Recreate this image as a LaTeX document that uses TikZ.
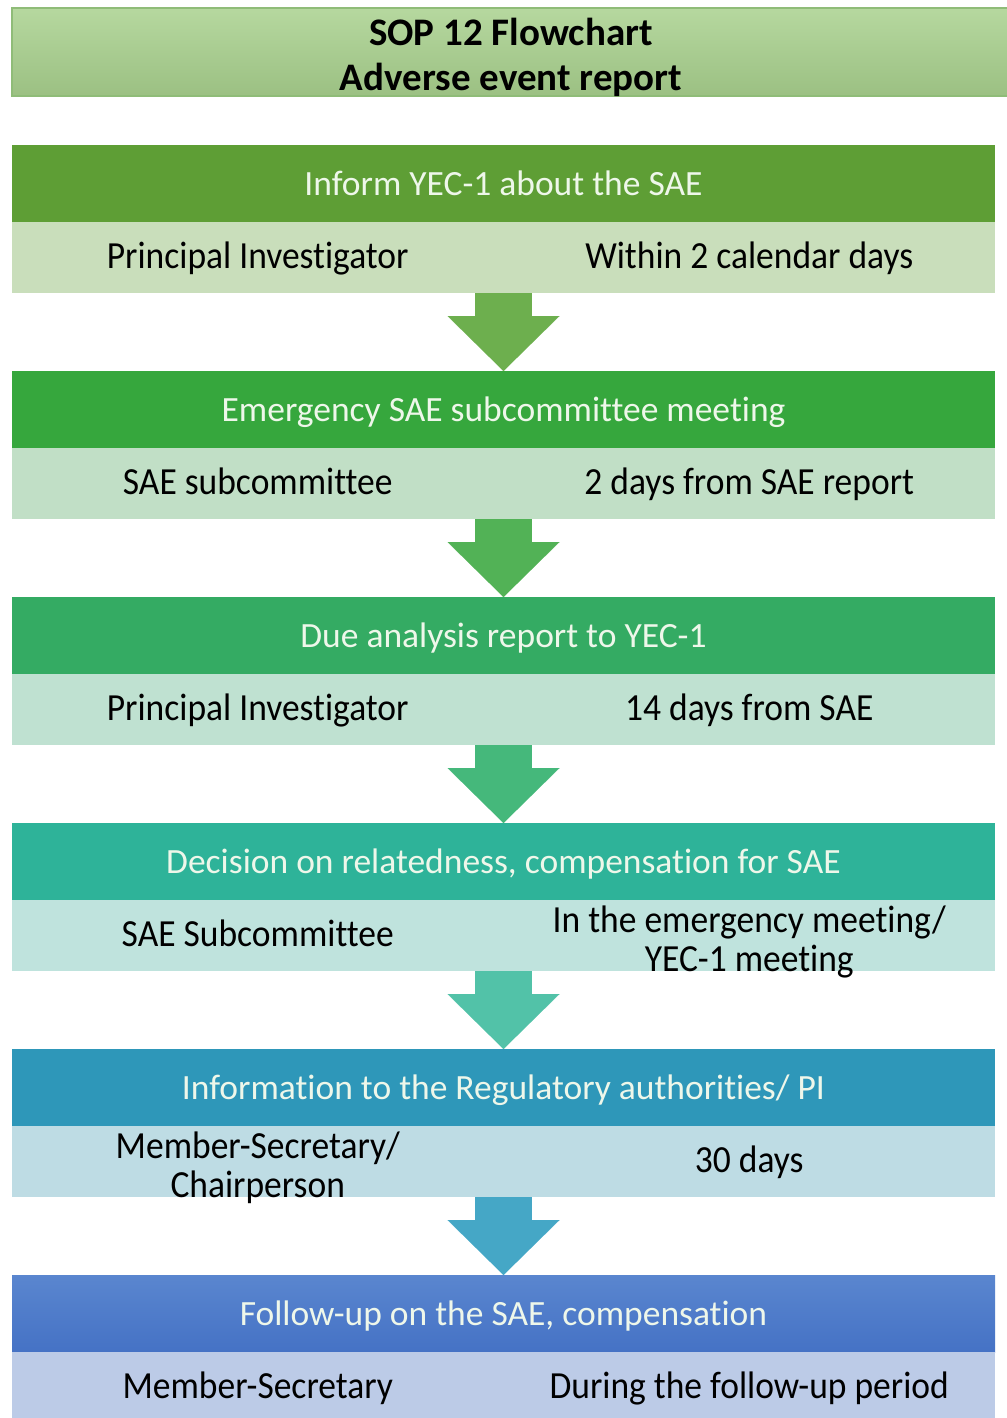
\documentclass[tikz,border=0pt]{standalone}
\usepackage{graphicx}
\usepackage{fontspec}
\setmainfont{Carlito}[Ligatures=NoCommon]
\usetikzlibrary{positioning,arrows.meta}

\definecolor{titlefill}{HTML}{A9D18E}
\definecolor{titleline}{HTML}{8FBC78}
\definecolor{hdA}{HTML}{5E9E35}\definecolor{subA}{HTML}{C9DEBB}\definecolor{arA}{HTML}{6DAF4E}
\definecolor{hdB}{HTML}{36A73D}\definecolor{subB}{HTML}{C1DFC6}\definecolor{arB}{HTML}{52B256}
\definecolor{hdC}{HTML}{34AB63}\definecolor{subC}{HTML}{BFE1D1}\definecolor{arC}{HTML}{45B87B}
\definecolor{hdD}{HTML}{2EB399}\definecolor{subD}{HTML}{BFE3DD}\definecolor{arD}{HTML}{52C2A8}
\definecolor{hdE}{HTML}{2E97B9}\definecolor{subE}{HTML}{BEDCE4}\definecolor{arE}{HTML}{45A7C6}
\definecolor{hdF}{HTML}{4572C5}\definecolor{hdFtop}{HTML}{5A86CF}\definecolor{subF}{HTML}{BCCBE7}
\definecolor{hdtext}{HTML}{EEF7EA}

% cell texts are a little taller than the header texts
\newcommand\tall[1]{\scalebox{1}[1.08]{#1}}
\newcommand\twolines[2]{\tall{\begin{tabular}{@{}c@{}}#1\\#2\end{tabular}}}

\tikzset{
  hdr/.style={rectangle,minimum width=983pt,minimum height=77pt,inner sep=0pt,outer sep=0pt,
    text=hdtext,font=\fontsize{35.5}{38}\selectfont,text height=27pt,text depth=3pt},
  cell/.style={rectangle,minimum width=491.5pt,minimum height=71pt,inner sep=0pt,outer sep=0pt,
    text=black,font=\fontsize{35.5}{36}\selectfont,text height=26pt,text depth=3.6pt},
  twoline/.style={text height=33pt,text depth=2.5pt},
  flow/.style={line width=57pt,-{Triangle[width=112pt,length=55pt,line width=0.01pt]}}
}

\begin{document}
\begin{tikzpicture}
		[x=1pt,y=-1pt,line cap=butt]
		\useasboundingbox (0,0) rectangle (1006,1418);
		% title
		\node[rectangle,draw=titleline,line width=1.2pt,top color=titlefill!85!white,bottom color=titlefill!92!black,
			minimum width=998pt,minimum height=88pt,inner sep=0pt] (title) at (511,52) {};
		\node[align=center,inner sep=0pt,font=\fontsize{39}{45}\selectfont\bfseries]
			(titletext) at ([yshift=-5pt]title.center) {SOP 12 Flowchart\\Adverse event report};

		% step 1
		\node[hdr,fill=hdA] (h1) at (503.5,183.5) {Inform YEC-1 about the SAE};
		\node[cell,fill=subA,anchor=north east] (l1) at (h1.south) {\tall{Principal Investigator}};
		\node[cell,fill=subA,anchor=north west] (r1) at (h1.south) {\tall{Within 2 calendar days}};
		% step 2
		\node[hdr,fill=hdB,below=78pt of l1.south east] (h2) {Emergency SAE subcommittee meeting};
		\node[cell,fill=subB,anchor=north east] (l2) at (h2.south) {\tall{SAE subcommittee}};
		\node[cell,fill=subB,anchor=north west] (r2) at (h2.south) {\tall{2 days from SAE report}};
		% step 3
		\node[hdr,fill=hdC,below=78pt of l2.south east] (h3) {Due analysis report to YEC-1};
		\node[cell,fill=subC,anchor=north east] (l3) at (h3.south) {\tall{Principal Investigator}};
		\node[cell,fill=subC,anchor=north west] (r3) at (h3.south) {\tall{14 days from SAE}};
		% step 4
		\node[hdr,fill=hdD,below=78pt of l3.south east] (h4) {Decision on relatedness, compensation for SAE};
		\node[cell,fill=subD,anchor=north east] (l4) at (h4.south) {\tall{SAE Subcommittee}};
		\node[cell,twoline,fill=subD,anchor=north west] (r4) at (h4.south) {\twolines{In the emergency meeting/}{YEC-1 meeting}};
		% step 5
		\node[hdr,fill=hdE,below=78pt of l4.south east] (h5) {Information to the Regulatory authorities/ PI};
		\node[cell,twoline,fill=subE,anchor=north east] (l5) at (h5.south) {\twolines{Member-Secretary/}{Chairperson}};
		\node[cell,fill=subE,anchor=north west] (r5) at (h5.south) {\tall{30 days}};
		% step 6
		\node[hdr,top color=hdFtop,bottom color=hdF,below=78pt of r5.south west] (h6) {Follow-up on the SAE, compensation};
		\node[cell,fill=subF,anchor=north east] (l6) at (h6.south) {\tall{Member-Secretary}};
		\node[cell,fill=subF,anchor=north west] (r6) at (h6.south) {\tall{During the follow-up period}};

		% arrows
		\draw[flow,arA] (l1.south east) -- (h2.north);
		\draw[flow,arB] (l2.south east) -- (h3.north);
		\draw[flow,arC] (l3.south east) -- (h4.north);
		\draw[flow,arD] (l4.south east) -- (h5.north);
		\draw[flow,arE] (r5.south west) -- (h6.north);
\end{tikzpicture}
\end{document}
